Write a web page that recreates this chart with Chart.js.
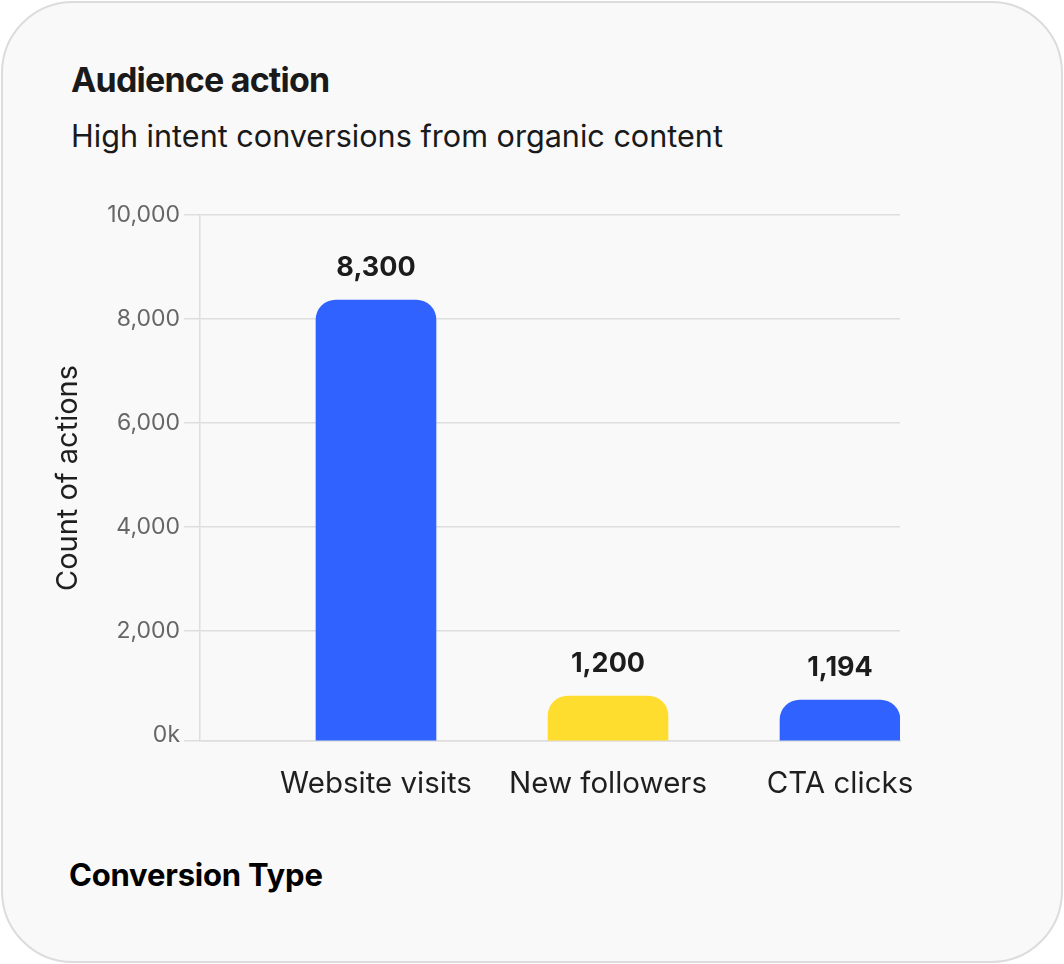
<!DOCTYPE html>
<html>
<head>
<meta charset="utf-8">
<script src="https://cdn.jsdelivr.net/npm/chart.js@4.4.1/dist/chart.umd.min.js"></script>
<style>
  html, body { margin: 0; padding: 0; background: #ffffff; }
  body { width: 1064px; height: 964px; position: relative; overflow: hidden; font-family: Inter, "Noto Sans", sans-serif; }
  .card {
    position: absolute; left: 1px; top: 1px; width: 1058px; height: 958px;
    border: 2px solid #dcdcdc; border-radius: 72px; background: #f9f9f9;
  }
  .txt { position: absolute; line-height: 1; white-space: nowrap; }
  #title { left: 71px; top: 63px; font-size: 34px; font-weight: 700; letter-spacing: -0.8px; color: #1a1a1a; }
  #subtitle { left: 71px; top: 121px; font-size: 30.6px; font-weight: 400; color: #1a1a1a; }
  #xtitle { left: 69px; top: 859px; font-size: 31px; font-weight: 700; letter-spacing: -0.2px; color: #000; }
  #wrap { position: absolute; left: 0; top: 0; width: 1064px; height: 964px; }
</style>
</head>
<body>
<div class="card"></div>
<div id="title" class="txt">Audience action</div>
<div id="subtitle" class="txt">High intent conversions from organic content</div>
<div id="xtitle" class="txt">Conversion Type</div>
<div id="wrap"><canvas id="chart"></canvas></div>
<script>
  const categories = ['Website visits', 'New followers', 'CTA clicks'];
  const counts = [8365, 750, 673];
  const countLabels = ['8,300', '1,200', '1,194'];
  const barColors = ['#2f62ff', '#ffdd2f', '#2f62ff'];
  const yTicks = [0, 2000, 4000, 6000, 8000, 10000];
  const yFloor = -115;

  const gridColor = '#dedede';

  // value text above each bar
  const valueLabels = {
    id: 'valueLabels',
    afterDatasetsDraw(chart) {
      const ctx = chart.ctx;
      const meta = chart.getDatasetMeta(0);
      ctx.save();
      ctx.font = '700 27px Inter';
      ctx.fillStyle = '#1c1c1c';
      ctx.textAlign = 'center';
      ctx.textBaseline = 'middle';
      meta.data.forEach((bar, i) => {
        ctx.fillText(countLabels[i], bar.x, bar.y - 32);
      });
      ctx.restore();
    }
  };

  let ctx = document.getElementById('chart').getContext('2d');
  let chart = new Chart(ctx, {
    type: 'bar',
    data: {
      datasets: [{
        label: 'Count of actions',
        data: counts.map((c, i) => ({ x: i, y: c })),
        base: yFloor,
        backgroundColor: barColors,
        borderRadius: 20,
        borderSkipped: 'start',
        barThickness: 120
      }]
    },
    options: {
      responsive: true,
      maintainAspectRatio: false,
      animation: false,
      layout: { padding: { left: 51, right: 164, top: 215, bottom: 143 } },
      plugins: {
        legend: { display: false },
        tooltip: { enabled: false }
      },
      scales: {
        x: {
          type: 'linear',
          offset: false,
          min: -0.7586,
          max: 2.2586,
          afterBuildTicks: (scale) => {
            scale.ticks = categories.map((c, i) => ({ value: i }));
          },
          afterFit: (scale) => { scale.height = 80; },
          grid: { display: false },
          border: { display: true, color: gridColor, width: 1.5 },
          ticks: {
            autoSkip: false,
            maxRotation: 0,
            padding: 17,
            color: '#1f1f1f',
            font: { family: 'Inter', size: 29.5 },
            callback: (v) => categories[v]
          }
        },
        y: {
          min: yFloor,
          max: 10000,
          afterBuildTicks: (scale) => {
            scale.ticks = [yFloor].concat(yTicks).map(v => ({ value: v }));
          },
          afterFit: (scale) => { scale.width = 149; },
          grid: {
            color: (c) => (c.tick && c.tick.value === 0) ? 'rgba(0,0,0,0)' : gridColor,
            lineWidth: 1.5,
            tickLength: 16
          },
          border: { display: true, color: gridColor, width: 1.5 },
          ticks: {
            padding: 4,
            color: '#666666',
            font: { family: 'Inter', size: 23 },
            callback: (v) => v < 0 ? '' : (v === 0 ? '0k' : v.toLocaleString('en-US'))
          },
          title: {
            display: true,
            text: 'Count of actions',
            color: '#1f1f1f',
            font: { family: 'Inter', size: 29 },
            padding: { top: 0, bottom: 18 }
          }
        }
      }
    },
    plugins: [valueLabels]
  });
</script>
</body>
</html>
